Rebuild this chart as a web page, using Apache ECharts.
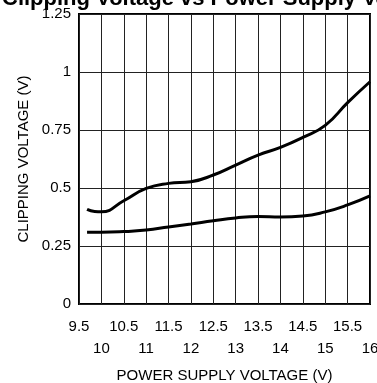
<!DOCTYPE html>
<html><head><meta charset="utf-8">
<script src="https://cdn.jsdelivr.net/npm/echarts@6/dist/echarts.min.js"></script>
<style>html,body{margin:0;padding:0;background:#fff}#c{width:377px;height:383px}</style>
</head><body><div id="c"></div>
<script>
const titleText = 'Clipping Voltage vs Power Supply Voltage';
const xTitle = 'POWER SUPPLY VOLTAGE (V)';
const yTitle = 'CLIPPING VOLTAGE (V)';
const supplyV = [9.68, 9.85, 10.0, 10.5, 11.0, 11.5, 12.0, 12.5, 13.0, 13.5, 14.0, 14.5, 15.0, 15.5, 16.0];
const upperV = [0.408, 0.399, 0.398, 0.445, 0.498, 0.52, 0.527, 0.556, 0.599, 0.642, 0.675, 0.718, 0.77, 0.868, 0.958];
const lowerV = [0.309, 0.309, 0.309, 0.312, 0.319, 0.332, 0.345, 0.359, 0.371, 0.377, 0.375, 0.379, 0.397, 0.427, 0.466];
const xMin = 9.5, xMax = 16, xStep = 0.5;
const yMin = 0, yMax = 1.25, yStep = 0.25;

const font = 'Liberation Sans, Arial, sans-serif';
const chart = echarts.init(document.getElementById('c'), null, {renderer: 'canvas'});
const pair = a => supplyV.map((x, i) => [x, a[i]]);
const baseX = {
  type: 'value', min: xMin, max: xMax, interval: xStep, position: 'bottom',
  axisLine: {show: false}, axisTick: {show: false}
};
chart.setOption({
  animation: false,
  title: {text: titleText, left: -3, top: -17,
    textStyle: {fontFamily: font, fontWeight: 'bold', fontSize: 22, color: '#000'}},
  grid: {left: 79, right: 7, top: 14, bottom: 79, outerBoundsMode: 'none', containLabel: false,
    show: true, borderColor: '#000', borderWidth: 2, backgroundColor: 'transparent'},
  xAxis: [
    Object.assign({}, baseX, {
      splitLine: {show: true, lineStyle: {color: '#222', width: 1}},
      axisLabel: {margin: 15, fontFamily: font, fontSize: 15, color: '#000',
        formatter: v => Number.isInteger(v) ? '' : String(v)},
      name: xTitle, nameLocation: 'middle', nameGap: 64,
      nameTextStyle: {fontFamily: font, fontSize: 15, color: '#000'}
    }),
    Object.assign({}, baseX, {
      splitLine: {show: false},
      axisLabel: {margin: 37, fontFamily: font, fontSize: 15, color: '#000',
        formatter: v => Number.isInteger(v) ? String(v) : ''}
    })
  ],
  yAxis: {
    type: 'value', min: yMin, max: yMax, interval: yStep,
    axisLine: {show: false}, axisTick: {show: false},
    splitLine: {show: true, lineStyle: {color: '#222', width: 1}},
    axisLabel: {margin: 8, fontFamily: font, fontSize: 15, color: '#000'},
    name: yTitle, nameLocation: 'middle', nameGap: 48,
    nameTextStyle: {fontFamily: font, fontSize: 15, color: '#000'}
  },
  series: [
    {type: 'line', data: pair(upperV), smooth: true, symbol: 'none', lineStyle: {color: '#000', width: 3}},
    {type: 'line', data: pair(lowerV), smooth: true, symbol: 'none', lineStyle: {color: '#000', width: 3}}
  ]
});
</script></body></html>
